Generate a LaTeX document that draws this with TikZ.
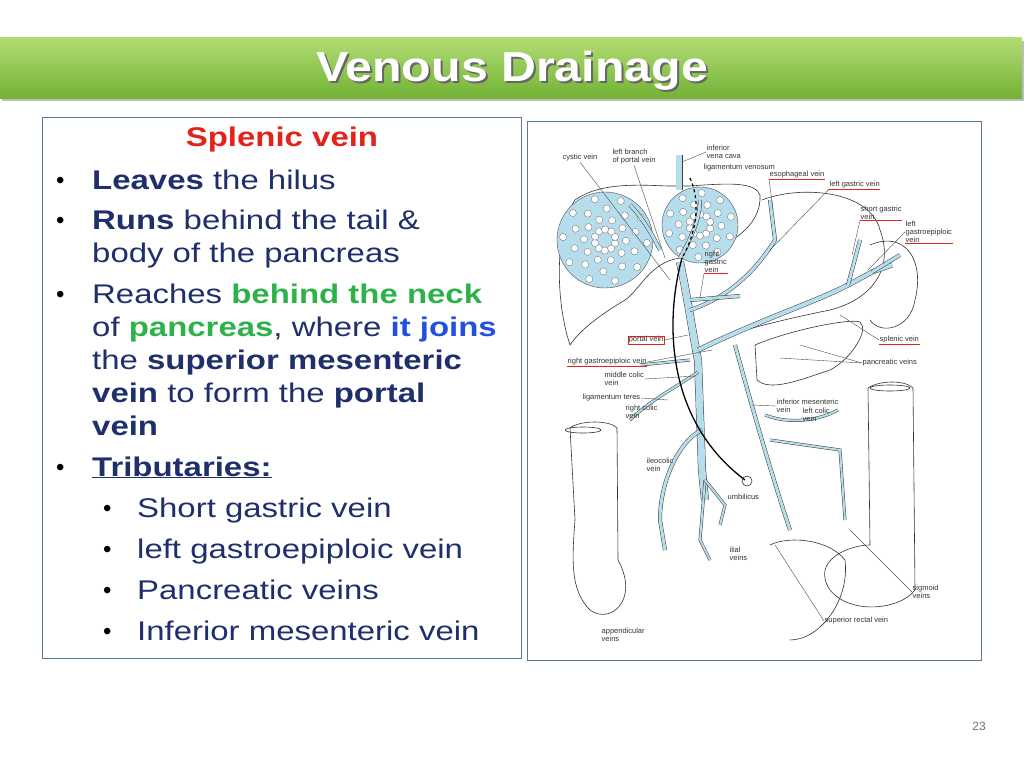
\documentclass[tikz,border=0pt]{standalone}
\usepackage{fontspec}
\setmainfont{Liberation Sans}
\newfontfamily\widefont[FakeStretch=1.22]{Liberation Sans}
\newfontfamily\titlefont[FakeStretch=1.15]{Liberation Sans}
\usetikzlibrary{positioning,shadows}
\definecolor{navy}{HTML}{1F2F6B}
\definecolor{splred}{HTML}{E2231A}
\definecolor{neckgreen}{HTML}{2DB24A}
\definecolor{joinblue}{HTML}{2150E0}
\definecolor{veinblue}{HTML}{B6DDEB}
\definecolor{framegrey}{HTML}{5A7A9A}
\definecolor{bartop}{HTML}{B2DC74}
\definecolor{barbot}{HTML}{72B236}
\tikzset{
  body/.style={anchor=base west, inner sep=0pt, text=navy, font=\widefont\fontsize{27}{30}\selectfont},
  bullet/.style={anchor=base west, inner sep=0pt, text=black, font=\fontsize{24}{30}\selectfont},
  lab/.style={inner sep=0.5pt, font=\fontsize{7.5}{8}\selectfont, align=left, text=black!80},
  ulab/.style={lab, append after command={(\tikzlastnode.south west) edge[splred, line width=0.6pt] (\tikzlastnode.south east)}},
  vein/.style={draw=black!75, line width=0.5pt, double=veinblue, double distance=#1},
  vein/.default=4pt,
  organ/.style={draw=black!80, line width=0.6pt},
}
\begin{document}
\begin{tikzpicture}[x=1pt,y=-1pt]
\useasboundingbox (0,0) rectangle (1024,768);
\fill[white] (0,0) rectangle (1024,768);

% Titelbalken
\fill[black!25] (2,41) rectangle (1024,101);
\shade[top color=bartop, bottom color=barbot] (0,38) rectangle (1022,98);
\node[text=black!60, font=\titlefont\fontsize{42}{44}\bfseries\selectfont] (titleshadow) at (514,73) {Venous Drainage};
\node[text=white, font=\titlefont\fontsize{42}{44}\bfseries\selectfont] (title) at (512,71) {Venous Drainage};

% Textkasten
\draw[framegrey, line width=0.8pt] (42,117) rectangle (521,658);
\node[anchor=base, text=splred, font=\widefont\fontsize{27}{30}\bfseries\selectfont] (head) at (282,146) {Splenic vein};
\node[bullet] (b1) at (56,188) {•};
\node[body] (l1) at (92,189) {\textbf{Leaves} the hilus};
\node[bullet] (b2) at (56,228) {•};
\node[body] (l2) at (92,229) {\textbf{Runs} behind the tail \&};
\node[body] (l3) at (92,262) {body of the pancreas};
\node[bullet] (b3) at (56,302) {•};
\node[body] (l4) at (92,303) {Reaches \textcolor{neckgreen}{\textbf{behind the neck}}};
\node[body] (l5) at (92,336) {of \textcolor{neckgreen}{\textbf{pancreas}}, where \textcolor{joinblue}{\textbf{it joins}}};
\node[body] (l6) at (92,369) {the \textbf{superior mesenteric}};
\node[body] (l7) at (92,402) {\textbf{vein} to form the \textbf{portal}};
\node[body] (l8) at (92,435) {\textbf{vein}};
\node[bullet] (b4) at (56,475) {•};
\node[body] (l9) at (92,476) {\underline{\textbf{Tributaries:}}};
\foreach \t [count=\i] in {Short gastric vein, left gastroepiploic vein, Pancreatic veins, Inferior mesenteric vein} {
  \node[bullet] (sb\i) at (103,{475+\i*41}) {•};
  \node[body] (sl\i) at (137,{476+\i*41}) {\t};
}

% Bildrahmen
\draw[framegrey, line width=0.8pt] (527,121) rectangle (981,660);

% Leber
\draw[organ] (575,200) .. controls (600,182) and (640,185) .. (668,186) -- (690,186) .. controls (730,183) and (755,182) .. (760,195)
  .. controls (762,225) and (730,250) .. (680,258) .. controls (650,262) and (640,290) .. (625,300)
  .. controls (600,315) and (580,330) .. (570,345) .. controls (555,300) and (555,230) .. (575,200);
\fill[veinblue, draw=black!70] (605,240) ellipse (48 and 48);
\fill[veinblue, draw=black!70] (700,225) ellipse (38 and 38);
\foreach \cx/\cy/\r/\n in {605/240/42/4, 700/225/32/3} {
  \foreach \a in {0,...,9} {
    \foreach \k in {1,...,\n} {
      \fill[white, draw=black!60, line width=0.3pt] ({\cx+\k*\r/\n*cos(\a*36+\k*19)},{\cy+\k*\r/\n*sin(\a*36+\k*19)}) circle (3.6);
    }
  }
}

% Magen, Milz, Pankreas
\draw[organ] (762,200) .. controls (800,185) and (870,190) .. (880,230) .. controls (895,270) and (870,300) .. (830,310)
  .. controls (790,318) and (740,330) .. (715,340);
\draw[organ] (870,245) .. controls (905,230) and (925,260) .. (915,300) .. controls (910,330) and (880,335) .. (870,320);
\draw[organ] (755,345) .. controls (790,330) and (850,318) .. (860,322) .. controls (870,330) and (850,360) .. (830,370)
  .. controls (800,380) and (770,392) .. (757,380) -- cycle;

% Dickdarm links und rechts
\draw[organ] (570,428) .. controls (580,420) and (610,420) .. (617,428) -- (618,560) .. controls (640,600) and (610,625) .. (590,610)
  .. controls (570,590) and (572,560) .. (575,520) -- cycle;
\draw[organ] (583,430) ellipse (18 and 3);
\draw[organ] (868,388) .. controls (880,380) and (905,380) .. (913,388) -- (915,590) .. controls (900,610) and (850,615) .. (830,590)
  .. controls (810,560) and (850,545) .. (870,545) -- cycle;
\draw[organ] (890,388) ellipse (20 and 3);
\draw[organ] (770,545) .. controls (790,535) and (830,540) .. (845,560) .. controls (850,600) and (820,640) .. (790,640);

% Venen
\draw[vein=6pt] (679,155) -- (679,190);
\draw[vein=7pt] (680,262) .. controls (688,300) and (692,330) .. (698,360) -- (702,470) -- (705,500);
\draw[vein] (698,350) .. controls (760,320) and (820,300) .. (848,285) -- (872,272) -- (892,265);
\draw[vein=3pt] (848,285) -- (860,240);
\draw[vein=3pt] (872,272) -- (900,255);
\draw[vein=3pt] (690,310) .. controls (720,300) and (750,280) .. (775,240) -- (770,200);
\draw[vein=3pt] (690,300) -- (740,296);
\draw[vein=3pt] (660,250) .. controls (650,230) and (640,215) .. (630,205);
\draw[vein=3pt] (680,258) .. controls (690,240) and (700,220) .. (700,200);
\draw[vein=3pt] (735,345) .. controls (750,400) and (770,470) .. (790,530);
\draw[vein=2pt] (765,415) .. controls (790,425) and (820,420) .. (838,410);
\draw[vein=2pt] (770,440) -- (840,450) -- (845,520);
\draw[vein=2pt] (698,372) .. controls (680,385) and (650,400) .. (630,420);
\draw[vein=2pt] (690,360) -- (640,365);
\draw[vein=3pt] (702,430) .. controls (680,440) and (660,480) .. (660,520) -- (665,550);
\draw[vein=2pt] (705,480) -- (700,540) -- (710,560);
\draw[vein=2pt] (705,480) -- (725,505) -- (720,525);

% Ligamente
\draw[black, line width=1.3pt] (682,258) .. controls (665,320) and (665,420) .. (745,480);
\draw[organ] (747,481) circle (5);
\draw[black, dashed, line width=1.2pt] (690,178) .. controls (700,200) and (698,230) .. (682,258);

% Beschriftungen
\node[lab] (cystic) at (580,158) {cystic vein};
\node[lab] (lbranch) at (634,157) {left branch\\of portal vein};
\node[lab, anchor=west] (ivc) at (706,152) {inferior\\vena cava};
\node[lab, anchor=west] (ligven) at (703,168) {ligamentum venosum};
\node[ulab, anchor=west] (esoph) at (769,175) {esophageal vein};
\node[ulab, anchor=west] (lgastric) at (829,185) {left gastric vein};
\node[ulab, anchor=west] (sgastric) at (860,213) {short gastric\\vein};
\node[ulab, anchor=west] (lgep) at (905,232) {left\\gastroepiploic\\vein};
\node[ulab, anchor=west] (rgastric) at (704,262) {right\\gastric\\vein};
\node[ulab, anchor=west, draw=splred, line width=0.5pt] (portal) at (628,340) {portal vein};
\node[ulab, anchor=west] (splenic) at (879,340) {splenic vein};
\node[ulab, anchor=west] (rgep) at (567,362) {right gastroepiploic vein};
\node[lab, anchor=west] (panc) at (862,363) {pancreatic veins};
\node[lab, anchor=west] (midcol) at (604,379) {middle colic\\vein};
\node[lab, anchor=west] (ligteres) at (582,398) {ligamentum teres};
\node[lab, anchor=west] (rcolic) at (625,412) {right colic\\vein};
\node[lab, anchor=west] (imv) at (776,406) {inferior mesenteric\\vein};
\node[lab, anchor=west] (lcolic) at (802,415) {left colic\\vein};
\node[lab, anchor=west] (ileo) at (646,465) {ileocolic\\vein};
\node[lab, anchor=west] (umb) at (727,497) {umbilicus};
\node[lab, anchor=west] (ilial) at (729,554) {ilial\\veins};
\node[lab, anchor=west] (sigm) at (912,592) {sigmoid\\veins};
\node[lab, anchor=west] (srect) at (824,621) {superior rectal vein};
\node[lab, anchor=west] (append) at (601,635) {appendicular\\veins};

% Zeiger
\draw[black!70, line width=0.4pt] (cystic.south) -- (670,280);
\draw[black!70, line width=0.4pt] (lbranch.south) -- (665,258);
\draw[black!70, line width=0.4pt] (ivc.west) -- (682,162);
\draw[black!70, line width=0.4pt] (esoph.south west) -- (773,210);
\draw[black!70, line width=0.4pt] (lgastric.south west) -- (770,250);
\draw[black!70, line width=0.4pt] (sgastric.south west) -- (852,255);
\draw[black!70, line width=0.4pt] (lgep.west) -- (868,270);
\draw[black!70, line width=0.4pt] (rgastric.south west) -- (700,297);
\draw[black!70, line width=0.4pt] (portal.east) -- (688,335);
\draw[black!70, line width=0.4pt] (splenic.west) -- (840,315);
\draw[black!70, line width=0.4pt] (rgep.east) -- (712,350);
\draw[black!70, line width=0.4pt] (panc.west) -- (800,345);
\draw[black!70, line width=0.4pt] (panc.west) -- (780,358);
\draw[black!70, line width=0.4pt] (midcol.east) -- (696,376);
\draw[black!70, line width=0.4pt] (ligteres.east) -- (668,400);
\draw[black!70, line width=0.4pt] (imv.west) -- (752,405);
\draw[black!70, line width=0.4pt] (sigm.west) -- (850,530);
\draw[black!70, line width=0.4pt] (srect.west) -- (775,545);

% Seitenzahl
\node[text=black!55, font=\fontsize{12}{14}\selectfont] (page) at (979,726) {23};
\end{tikzpicture}
\end{document}
